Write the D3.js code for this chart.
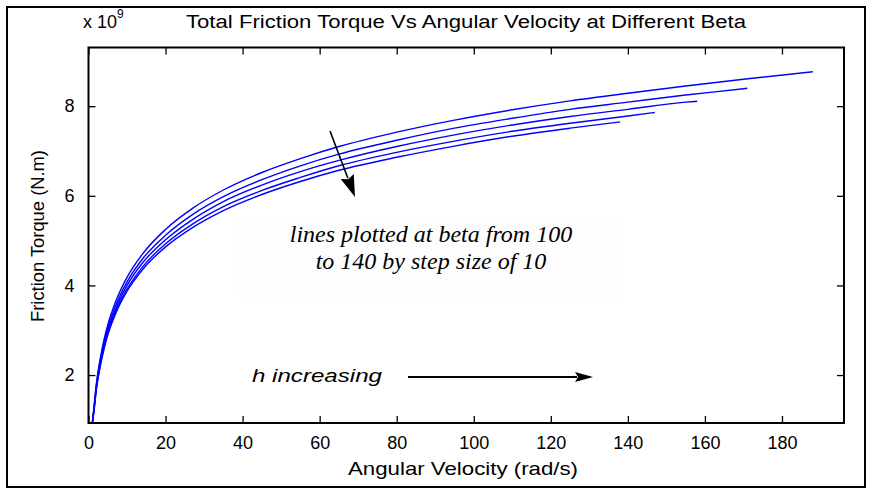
<!DOCTYPE html>
<html>
<head>
<meta charset="utf-8">
<script src="https://cdn.jsdelivr.net/npm/d3@7"></script>
<style>
  body { margin: 0; background: #fff; }
  svg { display: block; }
</style>
</head>
<body>
<div id="chart"></div>
<script>
// angular velocity samples (rad/s)
const omega = [1, 1.5, 2, 3, 4, 5, 7, 10, 14, 20, 27, 35, 45, 55, 65, 80, 95, 110, 125, 140, 155, 170, 188];
const betas = [100, 110, 120, 130, 140];
// last omega of every line (lines stop at different velocities)
const endOmega = [188, 171, 158, 147, 138];

// friction torque, x 10^9 N.m
const torque100 = [0.93, 1.35, 1.78, 2.35, 2.78, 3.12, 3.63, 4.18, 4.70, 5.25, 5.72, 6.13, 6.52, 6.83, 7.10, 7.42, 7.69, 7.92, 8.12, 8.29, 8.45, 8.60, 8.77];
const torque110 = [0.93, 1.32, 1.74, 2.29, 2.71, 3.05, 3.54, 4.08, 4.59, 5.12, 5.58, 5.98, 6.36, 6.67, 6.93, 7.24, 7.51, 7.73, 7.93, 8.09, 8.25, 8.39, 8.40];
const torque120 = [0.93, 1.29, 1.70, 2.25, 2.66, 2.99, 3.47, 4.00, 4.50, 5.02, 5.47, 5.87, 6.24, 6.54, 6.79, 7.10, 7.36, 7.58, 7.77, 7.93, 8.09, 8.11];
const torque130 = [0.93, 1.27, 1.67, 2.21, 2.61, 2.93, 3.41, 3.92, 4.41, 4.93, 5.37, 5.76, 6.12, 6.41, 6.67, 6.97, 7.22, 7.44, 7.62, 7.78, 7.86];
const torque140 = [0.93, 1.25, 1.65, 2.17, 2.57, 2.89, 3.36, 3.87, 4.35, 4.86, 5.29, 5.67, 6.03, 6.32, 6.57, 6.86, 7.11, 7.33, 7.51, 7.65];

const xTicks = [0, 20, 40, 60, 80, 100, 120, 140, 160, 180];
const yTicks = [2, 4, 6, 8];

const FRAME_WIDTH = 870;
const FRAME_HEIGHT = 491;
const MARGINS = {left: 88.5, right: 26, top: 47.5, bottom: 68};
const VIS_WIDTH = FRAME_WIDTH - MARGINS.left - MARGINS.right;
const VIS_HEIGHT = FRAME_HEIGHT - MARGINS.top - MARGINS.bottom;
const SANS = "'Liberation Sans', Arial, sans-serif";
const SERIF = "'Liberation Serif', 'Times New Roman', serif";

// build one point list per beta
const allTorque = [torque100, torque110, torque120, torque130, torque140];
const series = betas.map((b, i) => {
  const xs = omega.filter(w => w < endOmega[i]).concat([endOmega[i]]);
  return xs.map((w, j) => ({w: w, t: allTorque[i][j]}));
});

const X_SCALE = d3.scaleLinear().domain([0, 196.1]).range([0, VIS_WIDTH]);
const Y_SCALE = d3.scaleLinear().domain([0.93, 9.31]).range([VIS_HEIGHT, 0]);

const svg = d3.select("#chart").append("svg")
    .attr("width", FRAME_WIDTH)
    .attr("height", FRAME_HEIGHT)
    .attr("font-family", SANS);

// outer frame
svg.append("rect")
    .attr("x", 7).attr("y", 7)
    .attr("width", 858).attr("height", 480)
    .attr("fill", "none").attr("stroke", "#000").attr("stroke-width", 2);

const g = svg.append("g")
    .attr("transform", "translate(" + MARGINS.left + "," + MARGINS.top + ")");

// faint box behind the note
g.append("rect")
    .attr("x", 238 - MARGINS.left).attr("y", 217 - MARGINS.top)
    .attr("width", 385).attr("height", 80)
    .attr("fill", "#fdfdfd");

g.append("clipPath").attr("id", "clip")
  .append("rect").attr("width", VIS_WIDTH).attr("height", VIS_HEIGHT);

const line = d3.line()
    .x(d => X_SCALE(d.w))
    .y(d => Y_SCALE(d.t))
    .curve(d3.curveMonotoneX);

g.append("g").attr("clip-path", "url(#clip)")
  .selectAll("path")
  .data(series)
  .enter()
  .append("path")
    .attr("d", line)
    .attr("fill", "none")
    .attr("stroke", "#0000ff")
    .attr("stroke-width", 1.4);

// axes, MATLAB style: ticks inside, box all round
const TICK = 7;
g.append("g")
    .attr("transform", "translate(0," + VIS_HEIGHT + ")")
    .call(d3.axisBottom(X_SCALE).tickValues(xTicks).tickSizeInner(-TICK).tickSizeOuter(0).tickPadding(13))
    .call(a => a.select(".domain").remove())
    .attr("font-size", 18).attr("font-family", SANS);
g.append("g")
    .call(d3.axisTop(X_SCALE).tickValues(xTicks).tickSizeInner(-TICK).tickSizeOuter(0).tickFormat(""))
    .call(a => a.select(".domain").remove());
g.append("g")
    .call(d3.axisLeft(Y_SCALE).tickValues(yTicks).tickSizeInner(-TICK).tickSizeOuter(0).tickPadding(14))
    .call(a => a.select(".domain").remove())
    .attr("font-size", 18).attr("font-family", SANS);
g.append("g")
    .attr("transform", "translate(" + VIS_WIDTH + ",0)")
    .call(d3.axisRight(Y_SCALE).tickValues(yTicks).tickSizeInner(-TICK).tickSizeOuter(0).tickFormat(""))
    .call(a => a.select(".domain").remove());
g.selectAll(".tick line").attr("stroke", "#000").attr("stroke-width", 1.3);
g.selectAll(".tick text").attr("fill", "#000");

g.append("rect")
    .attr("width", VIS_WIDTH).attr("height", VIS_HEIGHT)
    .attr("fill", "none").attr("stroke", "#000").attr("stroke-width", 2);

// titles
svg.append("text")
    .attr("x", 466).attr("y", 28)
    .attr("text-anchor", "middle")
    .attr("font-size", 18)
    .attr("textLength", 560).attr("lengthAdjust", "spacingAndGlyphs")
    .text("Total Friction Torque Vs Angular Velocity at Different Beta");

const exp = svg.append("text").attr("x", 83).attr("y", 28).attr("font-size", 18);
exp.append("tspan").text("x 10");
exp.append("tspan").attr("dy", -10).attr("font-size", 12).text("9");

svg.append("text")
    .attr("x", 463).attr("y", 475)
    .attr("text-anchor", "middle")
    .attr("font-size", 19)
    .attr("textLength", 230).attr("lengthAdjust", "spacingAndGlyphs")
    .text("Angular Velocity (rad/s)");

svg.append("text")
    .attr("transform", "translate(44,236) rotate(-90)")
    .attr("text-anchor", "middle")
    .attr("font-size", 19)
    .attr("textLength", 172).attr("lengthAdjust", "spacingAndGlyphs")
    .text("Friction Torque (N.m)");

// annotations
const note = svg.append("text")
    .attr("text-anchor", "middle")
    .attr("font-family", SERIF)
    .attr("font-style", "italic")
    .attr("font-size", 24);
note.append("tspan").attr("x", 431).attr("y", 242).text("lines plotted at beta from 100");
note.append("tspan").attr("x", 431).attr("y", 269).text("to 140 by step size of 10");

svg.append("text")
    .attr("x", 252).attr("y", 382)
    .attr("font-style", "italic")
    .attr("font-size", 18)
    .attr("textLength", 130).attr("lengthAdjust", "spacingAndGlyphs")
    .text("h increasing");

// arrow: straight shaft plus a filled head drawn as a polygon
function arrow(x1, y1, x2, y2, len, half, width) {
  const dx = x2 - x1, dy = y2 - y1;
  const L = Math.hypot(dx, dy);
  const ux = dx / L, uy = dy / L;
  const bx = x2 - ux * len, by = y2 - uy * len;
  const px = -uy * half, py = ux * half;
  svg.append("line")
      .attr("x1", x1).attr("y1", y1)
      .attr("x2", bx + ux * 2).attr("y2", by + uy * 2)
      .attr("stroke", "#000").attr("stroke-width", width);
  svg.append("path")
      .attr("d", "M" + x2 + "," + y2 +
                 "L" + (bx + px) + "," + (by + py) +
                 "L" + (bx + ux * 3) + "," + (by + uy * 3) +
                 "L" + (bx - px) + "," + (by - py) + "Z")
      .attr("fill", "#000");
}
arrow(408, 377, 593, 377, 18, 5, 1.8);
arrow(330, 131, 355, 197, 22, 7, 1.6);
</script>
</body>
</html>
